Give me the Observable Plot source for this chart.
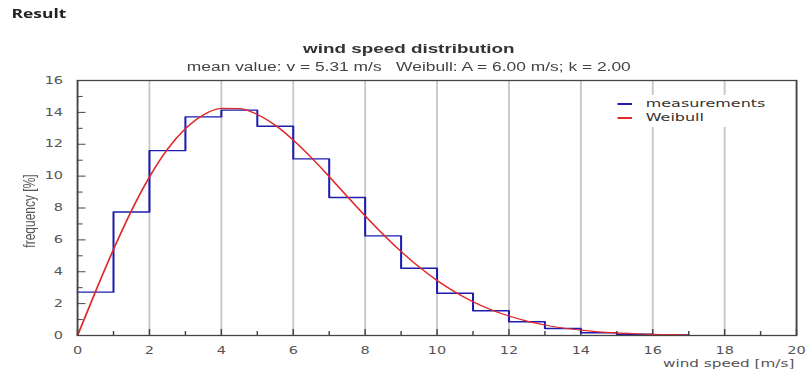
<!DOCTYPE html>
<html>
<head>
<meta charset="utf-8">
<script src="https://cdn.jsdelivr.net/npm/d3@7"></script>
<script src="https://cdn.jsdelivr.net/npm/@observablehq/plot@0.6"></script>
<style>
  html, body { margin: 0; padding: 0; background: #fff; overflow: hidden; }
  #page { position: relative; width: 556px; height: 371px; transform: scaleX(1.4496); transform-origin: 0 0; }
  #head { position: relative; height: 72px; }
  .result { position: absolute; left: 8px; top: 5.6px; font: 700 12px/16px "Open Sans", sans-serif; color: #222; white-space: nowrap; }
  .title { position: absolute; left: 8px; width: 548px; top: 40.7px; text-align: center; font: 700 13px/15px "Liberation Sans", Arial, sans-serif; color: #333; white-space: nowrap; }
  .subtitle { position: absolute; left: 8px; width: 548px; top: 59.5px; text-align: center; font: 400 12px/14px "Liberation Sans", Arial, sans-serif; color: #444; white-space: pre; }
  #chart svg { display: block; }
  .legend { position: absolute; left: 417px; top: 95px; width: 128px; height: 32px; background: #fff; font: 400 11px/13px "DejaVu Sans", sans-serif; color: #333; }
  .legend .row { position: absolute; left: 0; height: 13px; display: flex; align-items: center; white-space: nowrap; }
  .legend .sw { display: inline-block; width: 10.5px; height: 2px; margin-left: 8.6px; margin-right: 9.4px; }
  .ylabel { position: absolute; left: -40px; top: 204px; width: 120px; text-align: center; font: 400 12px/14px "Liberation Sans", Arial, sans-serif; color: #555; transform: rotate(-90deg); white-space: nowrap; }
  .xlabel { position: absolute; right: 8px; top: 356.9px; font: 400 10.5px/12px "DejaVu Sans", sans-serif; color: #555; white-space: nowrap; }
</style>
</head>
<body>
<div id="page">
  <div id="head">
    <div class="result">Result</div>
    <div class="title">wind speed distribution</div>
    <div class="subtitle" id="subtitle"></div>
  </div>
  <div id="chart"></div>
  <div class="legend" id="legend"></div>
  <div class="ylabel">frequency [%]</div>
  <div class="xlabel">wind speed [m/s]</div>
</div>
<script>
// ---- data ----
const binStart = [0, 1, 2, 3, 4, 5, 6, 7, 8, 9, 10, 11, 12, 13, 14, 15, 16, 17];
const measuredFreq = [2.72, 7.75, 11.6, 13.72, 14.14, 13.13, 11.08, 8.66, 6.25, 4.22, 2.65, 1.55, 0.86, 0.44, 0.17, 0.08, 0.03, 0.03];

const weibullSpeed = [0, 0.5, 1, 1.5, 2, 2.5, 3, 3.5, 4, 4.5, 5, 5.5, 6, 6.5, 7, 7.5, 8, 8.5, 9, 9.5, 10, 10.5, 11, 11.5, 12, 12.5, 13, 13.5, 14, 14.5, 15, 15.5, 16, 16.5, 17];
const weibullFreq = [0, 2.76, 5.40, 7.83, 9.94, 11.68, 12.98, 13.84, 14.25, 14.24, 13.87, 13.19, 12.26, 11.17, 9.97, 8.73, 7.51, 6.35, 5.27, 4.30, 3.45, 2.73, 2.12, 1.62, 1.22, 0.90, 0.66, 0.47, 0.34, 0.23, 0.16, 0.11, 0.07, 0.05, 0.03];

const xTicks = [0, 2, 4, 6, 8, 10, 12, 14, 16, 18, 20];
const xMinorTicks = [1, 3, 5, 7, 9, 11, 13, 15, 17, 19];
const xGrid = [2, 4, 6, 8, 10, 12, 14, 16, 18];
const yTicks = [0, 2, 4, 6, 8, 10, 12, 14, 16];
const yMinorTicks = [1, 3, 5, 7, 9, 11, 13, 15];

const seriesNames = ["measurements", "Weibull"];
const titleText = "wind speed distribution";
const subtitleText = "mean value: v = 5.31 m/s\u00a0\u00a0\u00a0Weibull: A = 6.00 m/s; k = 2.00";

// ---- styles ----
const BLUE = "#1c1cb0";
const RED = "#e02828";
const seriesColors = [BLUE, RED];

document.getElementById("subtitle").textContent = subtitleText;

const measured = binStart.map((x, i) => ({x, y: measuredFreq[i]}));
const weibull = weibullSpeed.map((x, i) => ({x, y: weibullFreq[i]}));

const chart = Plot.plot({
  width: 556,
  height: 299,
  marginLeft: 53,
  marginRight: 7,
  marginTop: 8,
  marginBottom: 36,
  x: {domain: [0, 20]},
  y: {domain: [0, 16]},
  style: {fontFamily: "DejaVu Sans, sans-serif", fontSize: "10px", color: "#555", background: "#fff"},
  marks: [
    Plot.ruleX(xGrid, {stroke: "#c8c8c8", strokeWidth: 1.3}),
    Plot.axisX({ticks: xTicks, tickSize: 0, tickPadding: 11, label: null, fill: "#555"}),
    Plot.axisY({ticks: yTicks, tickSize: 0, tickPadding: 10, label: null, fill: "#555"}),
    Plot.axisX({ticks: xTicks, tickSize: -6, fill: "none", stroke: "#444", label: null}),
    Plot.axisX({ticks: xMinorTicks, tickSize: -4, fill: "none", stroke: "#444", label: null}),
    Plot.axisY({ticks: yTicks, tickSize: -6, fill: "none", stroke: "#444", label: null}),
    Plot.axisY({ticks: yMinorTicks, tickSize: -4, fill: "none", stroke: "#444", label: null}),
    Plot.line(measured, {x: "x", y: "y", curve: "step-after", stroke: BLUE, strokeWidth: 1.4}),
    Plot.line(weibull, {x: "x", y: "y", curve: "monotone-x", stroke: RED, strokeWidth: 1.2}),
    Plot.frame({stroke: "#444", strokeWidth: 1.3})
  ]
});
document.getElementById("chart").appendChild(chart);

const legend = document.getElementById("legend");
const rowTops = [2, 16];
seriesNames.forEach((name, i) => {
  const row = document.createElement("div");
  row.className = "row";
  row.style.top = rowTops[i] + "px";
  const sw = document.createElement("span");
  sw.className = "sw";
  sw.style.background = seriesColors[i];
  const label = document.createElement("span");
  label.textContent = name;
  row.appendChild(sw);
  row.appendChild(label);
  legend.appendChild(row);
});
</script>
</body>
</html>
